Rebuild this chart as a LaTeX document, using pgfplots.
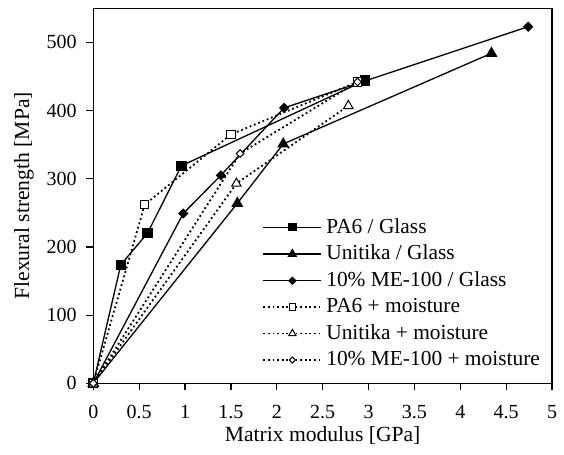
\documentclass[border=0pt]{standalone}
\usepackage{fontspec}
\setmainfont{Liberation Serif}
\usepackage{pgfplots}
\pgfplotsset{compat=1.18}

\pgfplotsset{
  glass/.style={black, line width=0.65pt, solid},
  moist/.style={black, line width=0.9pt, dash pattern=on 0.9pt off 1.4pt},
}

\begin{document}
\begin{tikzpicture}
\begin{axis}[
    scale only axis, width=229.35pt, height=187.5pt,
    xmin=0, xmax=5, ymin=0, ymax=550,
    xtick={0,0.5,1,1.5,2,2.5,3,3.5,4,4.5,5},
    ytick={0,100,200,300,400,500},
    xtick pos=bottom, ytick pos=left,
    tick align=outside, major tick length=3.5pt,
    tick style={black, line width=0.6pt},
    axis line style={line width=0.6pt},
    clip=false,
    /pgf/number format/assume math mode=true,
    tick label style={font=\fontsize{10}{12}\selectfont},
    xticklabel style={yshift=-3.8pt},
    yticklabel style={xshift=-1.3pt},
    xlabel={Matrix modulus [GPa]},
    ylabel={Flexural strength [MPa]},
    every axis x label/.style={at={(axis description cs:0.5,0)}, anchor=north,
        inner sep=0pt, yshift=-21.5pt, font=\fontsize{10.8}{12}\selectfont},
    every axis y label/.style={at={(axis description cs:-0.151,0.5)}, anchor=center,
        rotate=90, inner sep=0pt, font=\fontsize{10.8}{12}\selectfont},
    legend cell align=left,
    legend style={draw=none, fill=none, at={(axis description cs:0.368,0.2395)},
        anchor=west, inner sep=0pt, row sep=3.45pt, column sep=1.5pt,
        font=\fontsize{10.7}{12}\selectfont,
        nodes={inner sep=0.5pt}},
    legend image code/.code={
        \draw[mark repeat=2, mark phase=2] plot coordinates {(0pt,0pt) (14.5pt,0pt) (29pt,0pt)};},
    legend image post style={every mark/.append style={scale=0.78}},
]
\addplot[glass, mark=square*, mark size=2.25pt] coordinates {
    (0,0) (0.30,174) (0.59,220) (0.96,319) (2.96,444)
};
\addlegendentry{PA6 / Glass}
\addplot[glass, mark=triangle*, mark size=2.8pt] coordinates {
    (0,0) (1.57,264) (2.07,351) (4.34,484)
};
\addlegendentry{Unitika / Glass}
\addplot[glass, mark=square*, mark size=1.5pt, mark options={rotate=45}] coordinates {
    (0,0) (0.98,249) (1.39,305) (2.08,404) (4.74,523)
};
\addlegendentry{10\% ME-100 / Glass}
\addplot[moist, mark=square*, mark size=2.1pt,
    mark options={solid, fill=white, draw=black, line width=0.5pt}] coordinates {
    (0,0) (0.56,262) (1.50,365) (2.88,442)
};
\addlegendentry{PA6 + moisture}
\addplot[moist, mark=triangle*, mark size=2.7pt,
    mark options={solid, fill=white, draw=black, line width=0.5pt}] coordinates {
    (0,0) (1.56,293) (2.78,407)
};
\addlegendentry{Unitika + moisture}
\addplot[moist, mark=square*, mark size=1.35pt,
    mark options={solid, fill=white, draw=black, line width=0.5pt, rotate=45}] coordinates {
    (0,0) (1.60,337) (2.88,442)
};
\addlegendentry{10\% ME-100 + moisture}
\coordinate (sw) at (rel axis cs:0,0);
\coordinate (ne) at (rel axis cs:1,1);
\end{axis}
\path (sw) ++(-46.65pt,-35.35pt);
\path (ne) ++(6pt,4.15pt);
\end{tikzpicture}
\end{document}
